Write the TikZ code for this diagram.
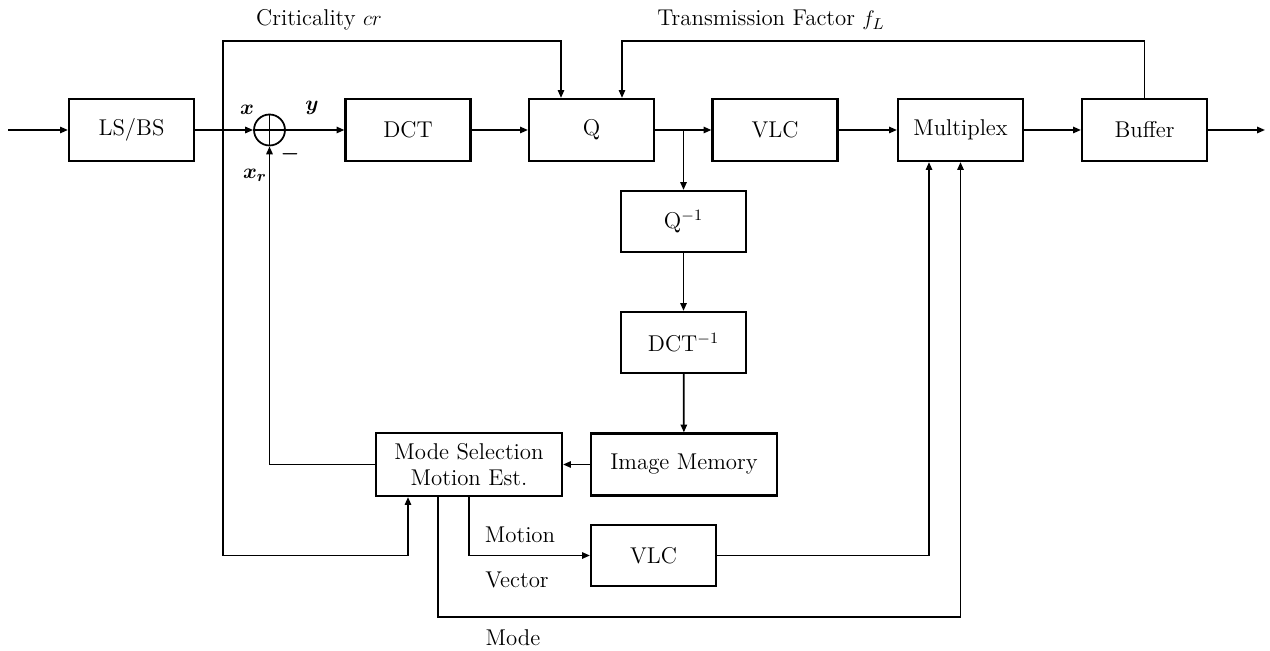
\documentclass[tikz,border=0pt]{standalone}
\usepackage{amsmath,bm}
\usetikzlibrary{arrows.meta,calc}
\newcommand\lbfont{\fontsize{13}{14.5}\selectfont}
\begin{document}
\begin{tikzpicture}[x=0.02cm,y=-0.02cm,
  blk/.style={draw,line width=1.2pt,minimum width=2.5cm,minimum height=1.24cm,inner sep=2pt,font=\lbfont},
  wblk/.style={blk,minimum width=3.72cm,align=center},
  wire/.style={line width=1pt},
  arr/.style={wire,-{Triangle[length=4.5pt,width=3.6pt]}},
  lbl/.style={font=\lbfont,inner sep=0pt}]
\useasboundingbox (0,0) rectangle (1270,651);

% forward path blocks
\node[blk] (lsbs) at (131.5,130) {LS/BS};
\node[draw,circle,line width=1pt,minimum size=0.62cm,inner sep=0pt] (sum) at (269.5,130) {};
\draw[wire] (sum.north) -- (sum.south) (sum.west) -- (sum.east);
\node[blk] (dct) at (408,130) {DCT};
\node[blk] (q) at (591.5,130) {Q};
\node[blk] (vlc) at (775,130) {VLC};
\node[blk] (mux) at (960.5,130) {Multiplex};
\node[blk] (buf) at (1144.5,130) {Buffer};

% reconstruction loop
\node[blk,minimum height=1.22cm] (qinv) at (683.5,221.5) {Q$^{-1}$};
\node[blk,minimum height=1.22cm] (dctinv) at (683.5,342.5) {DCT$^{-1}$};
\node[wblk] (imem) at (684,464.5) {Image Memory};
\node[wblk,minimum height=1.26cm] (mode) at (469,464.5) {Mode Selection\\Motion Est.};
\node[blk,minimum height=1.22cm] (vlc2) at (653.5,555.5) {VLC};

% routing points
\coordinate (in) at (8,130);
\coordinate (out) at (1265,130);
\coordinate (tap) at (223,130);
\coordinate (crtop) at (561,41);
\coordinate (crbot) at (408,555.5);
\coordinate (fltop) at (622,41);
\coordinate (br) at (683.5,130);
\coordinate (mvx) at (929,555.5);
\coordinate (mdbot) at (438,617);

% connectors
\draw[arr] (in) -- (lsbs);
\draw[arr] (lsbs) -- (sum);
\draw[arr] (sum) -- (dct);
\draw[arr] (dct) -- (q);
\draw[arr] (q) -- (vlc);
\draw[arr] (br) -- (qinv);
\draw[arr] (qinv) -- (dctinv);
\draw[arr] (dctinv) -- (imem);
\draw[arr] (imem) -- (mode);
\draw[arr] (vlc) -- (mux);
\draw[arr] (mux) -- (buf);
\draw[arr] (buf) -- (out);
\draw[arr] (buf.north) |- (fltop) -- (fltop |- q.north);
\draw[arr] (tap) |- (crtop) -- (crtop |- q.north);
\draw[arr] (tap) |- (crbot) -- (crbot |- mode.south);
\draw[arr] (mode.west) -| (sum.south);
\draw[arr] (mode.south) |- (vlc2.west);
\draw[arr] (vlc2.east) -| (mvx |- mux.south);
\draw[arr] (mode.south -| mdbot) -- (mdbot) -| (mux.south);

% labels
\node[lbl] at (319,20) {Criticality $cr$};
\node[lbl] at (771,20) {Transmission Factor $f_L$};
\node[lbl] at (247,110) {$\bm{x}$};
\node[lbl] at (312,108) {$\bm{y}$};
\node[lbl] at (255,175) {$\bm{x_r}$};
\node[lbl] at (290,154) {$\bm{-}$};
\node[lbl] at (520,535) {Motion};
\node[lbl] at (517,580) {Vector};
\node[lbl] at (513,638) {Mode};
\end{tikzpicture}
\end{document}
